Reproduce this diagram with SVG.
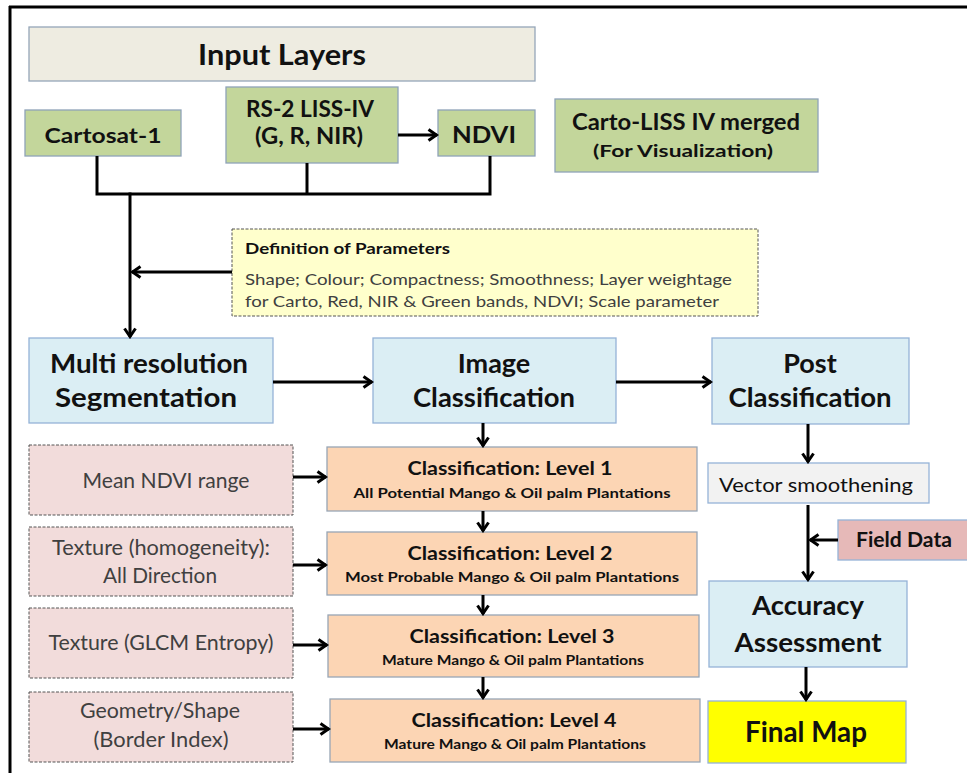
<svg xmlns="http://www.w3.org/2000/svg" width="967" height="773" viewBox="0 0 967 773">
<defs>
<marker id="arr" viewBox="0 0 12 14" refX="10.5" refY="7" markerWidth="12" markerHeight="14" markerUnits="userSpaceOnUse" orient="auto">
<path d="M2,1.5 L10,7 L2,12.5" fill="none" stroke="#000" stroke-width="3"/>
</marker>
<style>
text{font-family:Lato,"Open Sans","DejaVu Sans",sans-serif;fill:#111;text-anchor:middle}
.b{font-weight:bold}
.g{fill:#C3D69B;stroke:#8FA3B8;stroke-width:1.3}
.bl{fill:#DBEEF4;stroke:#95B3D7;stroke-width:1.3}
.or{fill:#FCD5B4;stroke:#98A6B5;stroke-width:1.3}
.pk{fill:#F2DCDB;stroke:#555;stroke-width:1;stroke-dasharray:3 1.5}
.pt{fill:#404040;font-size:21px}
.c{fill:none;stroke:#000;stroke-width:3}
.ca{fill:none;stroke:#000;stroke-width:3;marker-end:url(#arr)}
</style>
</defs>
<rect width="967" height="773" fill="#fff"/>
<g id="frame">
<line x1="9" y1="7" x2="967" y2="7" stroke="#000" stroke-width="3"/>
<line x1="10" y1="6" x2="10" y2="773" stroke="#000" stroke-width="3"/>
</g>
<g id="input-layers">
<rect x="29" y="27" width="506" height="54" fill="#EEECE1" stroke="#95A6B8" stroke-width="1.3"/>
<text x="282" y="65" class="b" font-size="28" textLength="168" lengthAdjust="spacingAndGlyphs">Input Layers</text>
</g>
<g id="cartosat">
<rect x="25" y="110" width="156" height="46" class="g"/>
<text x="103" y="143" class="b" font-size="21" textLength="117" lengthAdjust="spacingAndGlyphs">Cartosat-1</text>
</g>
<g id="rs2">
<rect x="226" y="87" width="172" height="76" class="g"/>
<text x="310" y="117" class="b" font-size="22" textLength="128" lengthAdjust="spacingAndGlyphs">RS-2 LISS-IV</text>
<text x="309" y="144" class="b" font-size="22" textLength="108" lengthAdjust="spacingAndGlyphs">(G, R, NIR)</text>
</g>
<g id="ndvi">
<rect x="438" y="110" width="97" height="46" class="g"/>
<text x="484" y="143" class="b" font-size="23" textLength="64" lengthAdjust="spacingAndGlyphs">NDVI</text>
</g>
<g id="carto-liss">
<rect x="555" y="99" width="263" height="73" class="g"/>
<text x="686" y="130" class="b" font-size="22" textLength="228" lengthAdjust="spacingAndGlyphs">Carto-LISS IV merged</text>
<text x="683" y="157" class="b" font-size="17" textLength="180" lengthAdjust="spacingAndGlyphs">(For Visualization)</text>
</g>
<g id="definition">
<rect x="232" y="229" width="526" height="87" fill="#FFFFCC" stroke="#555" stroke-width="1" stroke-dasharray="3 1.5"/>
<text x="245" y="254" class="b" font-size="16" style="text-anchor:start" textLength="205" lengthAdjust="spacingAndGlyphs">Definition of Parameters</text>
<text x="245" y="285" font-size="16" style="text-anchor:start;fill:#404040" textLength="487" lengthAdjust="spacingAndGlyphs">Shape; Colour; Compactness; Smoothness; Layer weightage</text>
<text x="245" y="307" font-size="16" style="text-anchor:start;fill:#404040" textLength="474" lengthAdjust="spacingAndGlyphs">for Carto, Red, NIR &amp; Green bands, NDVI; Scale parameter</text>
</g>
<g id="multires">
<rect x="29" y="338" width="244" height="85" class="bl"/>
<text x="149" y="373" class="b" font-size="26" textLength="198" lengthAdjust="spacingAndGlyphs">Multi resolution</text>
<text x="146" y="407" class="b" font-size="27" textLength="182" lengthAdjust="spacingAndGlyphs">Segmentation</text>
</g>
<g id="image-class">
<rect x="373" y="338" width="243" height="85" class="bl"/>
<text x="494" y="373" class="b" font-size="27">Image</text>
<text x="494" y="407" class="b" font-size="27" textLength="162" lengthAdjust="spacingAndGlyphs">Classification</text>
</g>
<g id="post-class">
<rect x="712" y="338" width="197" height="86" class="bl"/>
<text x="810" y="373" class="b" font-size="27">Post</text>
<text x="810" y="407" class="b" font-size="27" textLength="163" lengthAdjust="spacingAndGlyphs">Classification</text>
</g>
<g id="vector">
<rect x="708" y="463" width="221" height="40" fill="#F2F2F2" stroke="#95B3D7" stroke-width="1.3"/>
<text x="816" y="492" font-size="20" textLength="194" lengthAdjust="spacingAndGlyphs">Vector smoothening</text>
</g>
<g id="field-data">
<rect x="838" y="520" width="135" height="40" fill="#E6B9B8" stroke="#95B3D7" stroke-width="1.3"/>
<text x="904" y="547" class="b" font-size="20" textLength="96" lengthAdjust="spacingAndGlyphs">Field Data</text>
</g>
<g id="accuracy">
<rect x="709" y="581" width="198" height="86" class="bl"/>
<text x="808" y="615" class="b" font-size="27" textLength="112" lengthAdjust="spacingAndGlyphs">Accuracy</text>
<text x="808" y="652" class="b" font-size="27" textLength="147" lengthAdjust="spacingAndGlyphs">Assessment</text>
</g>
<g id="final-map">
<rect x="708" y="701" width="198" height="62" fill="#FFFF00" stroke="#95B3D7" stroke-width="1.3"/>
<text x="806" y="742" class="b" font-size="28" textLength="122" lengthAdjust="spacingAndGlyphs">Final Map</text>
</g>
<g id="mean-ndvi">
<rect x="29" y="445" width="264" height="70" class="pk"/>
<text x="166" y="488" class="pt" textLength="167" lengthAdjust="spacingAndGlyphs">Mean NDVI range</text>
</g>
<g id="texture-homog">
<rect x="29" y="527" width="264" height="69" class="pk"/>
<text x="161" y="555" class="pt" textLength="218" lengthAdjust="spacingAndGlyphs">Texture (homogeneity):</text>
<text x="160" y="583" class="pt" textLength="114" lengthAdjust="spacingAndGlyphs">All Direction</text>
</g>
<g id="texture-glcm">
<rect x="29" y="608" width="264" height="70" class="pk"/>
<text x="161" y="650" class="pt" textLength="225" lengthAdjust="spacingAndGlyphs">Texture (GLCM Entropy)</text>
</g>
<g id="geometry">
<rect x="29" y="692" width="264" height="70" class="pk"/>
<text x="160" y="718" class="pt" textLength="160" lengthAdjust="spacingAndGlyphs">Geometry/Shape</text>
<text x="161" y="747" class="pt" textLength="135" lengthAdjust="spacingAndGlyphs">(Border Index)</text>
</g>
<g id="level1">
<rect x="327" y="447" width="370" height="64" class="or"/>
<text x="510" y="475" class="b" font-size="18" textLength="205" lengthAdjust="spacingAndGlyphs">Classification: Level 1</text>
<text x="512" y="498" class="b" font-size="13" textLength="317" lengthAdjust="spacingAndGlyphs">All Potential Mango &amp; Oil palm Plantations</text>
</g>
<g id="level2">
<rect x="327" y="532" width="370" height="63" class="or"/>
<text x="510" y="560" class="b" font-size="18" textLength="205" lengthAdjust="spacingAndGlyphs">Classification: Level 2</text>
<text x="512" y="582" class="b" font-size="13" textLength="334" lengthAdjust="spacingAndGlyphs">Most Probable Mango &amp; Oil palm Plantations</text>
</g>
<g id="level3">
<rect x="328" y="615" width="371" height="62" class="or"/>
<text x="512" y="643" class="b" font-size="18" textLength="205" lengthAdjust="spacingAndGlyphs">Classification: Level 3</text>
<text x="513" y="665" class="b" font-size="13" textLength="262" lengthAdjust="spacingAndGlyphs">Mature Mango &amp; Oil palm Plantations</text>
</g>
<g id="level4">
<rect x="330" y="699" width="370" height="63" class="or"/>
<text x="514" y="727" class="b" font-size="18" textLength="205" lengthAdjust="spacingAndGlyphs">Classification: Level 4</text>
<text x="515" y="749" class="b" font-size="13" textLength="262" lengthAdjust="spacingAndGlyphs">Mature Mango &amp; Oil palm Plantations</text>
</g>
<g id="connectors">
<line x1="398" y1="135" x2="437" y2="135" class="ca"/>
<polyline points="97,156 97,194 490,194 490,156" class="c"/>
<line x1="307" y1="163" x2="307" y2="194" class="c"/>
<line x1="130" y1="192.5" x2="130" y2="337" class="ca"/>
<line x1="232" y1="272" x2="132" y2="272" class="ca"/>
<line x1="273" y1="382" x2="372" y2="382" class="ca"/>
<line x1="616" y1="382" x2="711" y2="382" class="ca"/>
<line x1="483" y1="423" x2="483" y2="446" class="ca"/>
<line x1="483" y1="511" x2="483" y2="531" class="ca"/>
<line x1="483" y1="595" x2="483" y2="614" class="ca"/>
<line x1="483" y1="677" x2="483" y2="698" class="ca"/>
<line x1="293" y1="477" x2="326" y2="477" class="ca"/>
<line x1="293" y1="565" x2="326" y2="565" class="ca"/>
<line x1="293" y1="645" x2="327" y2="645" class="ca"/>
<line x1="293" y1="729" x2="329" y2="729" class="ca"/>
<line x1="808" y1="424" x2="808" y2="462" class="ca"/>
<line x1="808" y1="505" x2="808" y2="580" class="ca"/>
<line x1="838" y1="540" x2="810" y2="540" class="ca"/>
<line x1="806" y1="667" x2="806" y2="700" class="ca"/>
</g>
</svg>
